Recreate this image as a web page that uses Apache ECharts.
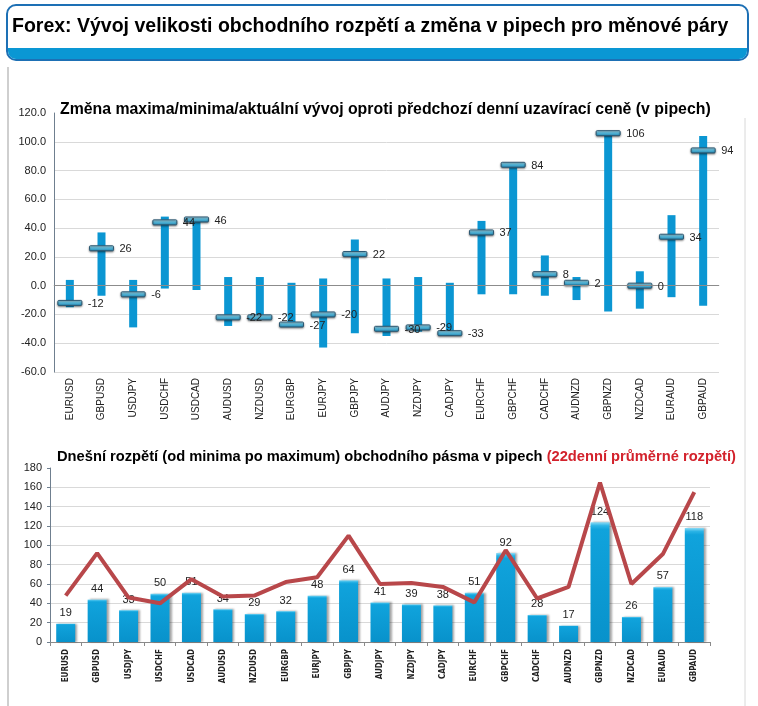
<!DOCTYPE html>
<html><head><meta charset="utf-8">
<script src="https://cdn.jsdelivr.net/npm/echarts/dist/echarts.min.js"></script>
<style>html,body{margin:0;padding:0;background:#fff}#c{width:758px;height:706px}</style>
</head><body><div id="c"></div>
<script>
const pairs = ['EURUSD','GBPUSD','USDJPY','USDCHF','USDCAD','AUDUSD','NZDUSD','EURGBP','EURJPY','GBPJPY','AUDJPY','NZDJPY','CADJPY','EURCHF','GBPCHF','CADCHF','AUDNZD','GBPNZD','NZDCAD','EURAUD','GBPAUD'];
const highs   = [4, 37, 4, 48, 47, 6, 6, 2, 5, 32, 5, 6, 2, 45, 84, 21, 6, 107, 10, 49, 104];
const lows    = [-15, -7, -29, -2, -3, -28, -23, -28, -43, -33, -35, -32, -35, -6, -6, -7, -10, -18, -16, -8, -14];
const current = [-12, 26, -6, 44, 46, -22, -22, -27, -20, 22, -30, -29, -33, 37, 84, 8, 2, 106, 0, 34, 94];
const todayRange = [19, 44, 33, 50, 51, 34, 29, 32, 48, 64, 41, 39, 38, 51, 92, 28, 17, 124, 26, 57, 118];
const avgRange22 = [48, 92, 46, 40, 65, 47, 48, 62, 67, 110, 60, 61, 57, 41, 95, 45, 57, 165, 60, 91, 155];

const mainTitle = 'Forex: Vývoj velikosti obchodního rozpětí a změna v pipech pro měnové páry';
const topTitle = 'Změna maxima/minima/aktuální vývoj oproti předchozí denní uzavírací ceně (v pipech)';
const bottomTitleA = 'Dnešní rozpětí (od minima po maximum) obchodního pásma v pipech ';
const bottomTitleB = '(22denní průměrné rozpětí)';

const FONT = "'Liberation Sans', Arial, sans-serif";
const chart = echarts.init(document.getElementById('c'));

const capFill = new echarts.graphic.LinearGradient(0,0,0,1,[
  {offset:0,color:'#c4ecf8'},{offset:0.45,color:'#5cc0e3'},{offset:1,color:'#1a7fab'}]);

function renderRange(params, api) {
  const i = api.value(0);
  const hi = api.coord([i, api.value(1)]);
  const lo = api.coord([i, api.value(2)]);
  const cu = api.coord([i, api.value(3)]);
  const bw = 8, cw = 24, ch = 5;
  return {type:'group', children:[
    {type:'rect', shape:{x:hi[0]-bw/2, y:hi[1], width:bw, height:lo[1]-hi[1]}, style:{fill:'#0b96d2'}},
    {type:'rect', shape:{x:cu[0]-cw/2, y:cu[1]-ch/2, width:cw, height:ch, r:1},
      style:{fill:capFill, stroke:'#2d5872', lineWidth:1, shadowBlur:2, shadowOffsetY:1, shadowColor:'rgba(0,0,0,0.45)'}}
  ]};
}
function renderLabel(params, api) {
  const i = api.value(0);
  const cu = api.coord([i, api.value(1)]);
  return {type:'text', x:cu[0]+18, y:cu[1]+1, style:{text:String(api.value(1)), fill:'#222', font:'11px '+FONT, verticalAlign:'middle', align:'left'}};
}

const option = {
  animation:false,
  backgroundColor:'#fff',
  textStyle:{fontFamily:FONT},
  grid:[
    {left:54, right:39, top:113, height:259},
    {left:50, right:48, top:468, height:174}
  ],
  xAxis:[
    {gridIndex:0, type:'category', data:pairs,
     axisLine:{show:true, lineStyle:{color:'#cfcfcf'}}, axisTick:{show:false},
     axisLabel:{rotate:90, fontSize:10, color:'#222', margin:6, interval:0}},
    {gridIndex:1, type:'category', data:pairs,
     axisLine:{show:true, lineStyle:{color:'#8a8a8a'}}, axisTick:{show:true, length:4, lineStyle:{color:'#8a8a8a'}},
     axisLabel:{rotate:90, fontSize:8, fontWeight:'bold', fontFamily:"'Liberation Sans Narrow','DejaVu Sans Condensed',sans-serif", color:'#222', margin:7, interval:0}}
  ],
  yAxis:[
    {gridIndex:0, type:'value', min:-60, max:120, interval:20,
     axisLine:{show:true, lineStyle:{color:'#6f7f8f'}}, axisTick:{show:false},
     axisLabel:{fontSize:11, color:'#222', margin:8, formatter:v=>v.toFixed(1)},
     splitLine:{showMaxLine:false, lineStyle:{color:'#d9d9d9'}}},
    {gridIndex:1, type:'value', min:0, max:180, interval:20,
     axisLine:{show:true, lineStyle:{color:'#6f7f8f'}}, axisTick:{show:true, length:3, lineStyle:{color:'#6f7f8f'}},
     axisLabel:{fontSize:11, color:'#222', margin:8},
     splitLine:{showMaxLine:false, lineStyle:{color:'#d9d9d9'}}}
  ],
  series:[
    {type:'custom', xAxisIndex:0, yAxisIndex:0, renderItem:renderRange, z:2,
     data:pairs.map((p,i)=>[i, highs[i], lows[i], current[i]]),
     encode:{x:0, y:[1,2,3]},
     markLine:{silent:true, symbol:'none', label:{show:false}, lineStyle:{color:'#8c8c8c', width:1, type:'solid'}, data:[{yAxis:0}]}},
    {type:'custom', xAxisIndex:0, yAxisIndex:0, renderItem:renderLabel, z:10,
     data:pairs.map((p,i)=>[i, current[i]]), encode:{x:0, y:1}},
    {type:'bar', xAxisIndex:1, yAxisIndex:1, data:todayRange, barWidth:19,
     itemStyle:{color:new echarts.graphic.LinearGradient(0,0,0,1,[
       {offset:0,color:'#8fdcf6'},{offset:0.03,color:'#2bb4e6'},{offset:0.06,color:'#10a3dc'},{offset:1,color:'#0892cb'}]),
       shadowColor:'rgba(0,0,0,0.35)', shadowBlur:2, shadowOffsetX:2, shadowOffsetY:0},
     label:{show:true, position:'top', distance:5, fontSize:11, color:'#222'}},
    {type:'line', xAxisIndex:1, yAxisIndex:1, data:avgRange22, symbol:'none', z:5,
     lineStyle:{color:'#b8474a', width:4}}
  ],
  graphic:[
    {type:'rect', shape:{x:7, y:5, width:741, height:55, r:9}, style:{fill:'#fff', stroke:'#1d70b5', lineWidth:2}, z:1},
    {type:'rect', shape:{x:8, y:48, width:739, height:11, r:[0,0,8,8]}, style:{fill:'#0a97d4'}, z:2},
    {type:'text', x:12, y:27, style:{text:mainTitle, font:'bold 19.5px '+FONT, fill:'#000', verticalAlign:'middle'}, z:3},
    {type:'line', shape:{x1:8, y1:67, x2:8, y2:706}, style:{stroke:'#cfcfcf', lineWidth:2}},
    {type:'line', shape:{x1:745, y1:118, x2:745, y2:706}, style:{stroke:'#d8d8d8', lineWidth:1}},
    {type:'text', x:60, y:110, z:20, style:{text:topTitle, font:'bold 15.85px '+FONT, fill:'#000', verticalAlign:'middle'}},
    {type:'text', x:57, y:457, z:20, style:{text:'{a|'+bottomTitleA+'}{b|'+bottomTitleB+'}', verticalAlign:'middle',
      rich:{a:{font:'bold 14.7px '+FONT, fill:'#000', color:'#000'}, b:{font:'bold 14.7px '+FONT, fill:'#d3222c', color:'#d3222c'}}}}
  ]
};
chart.setOption(option);
</script></body></html>
